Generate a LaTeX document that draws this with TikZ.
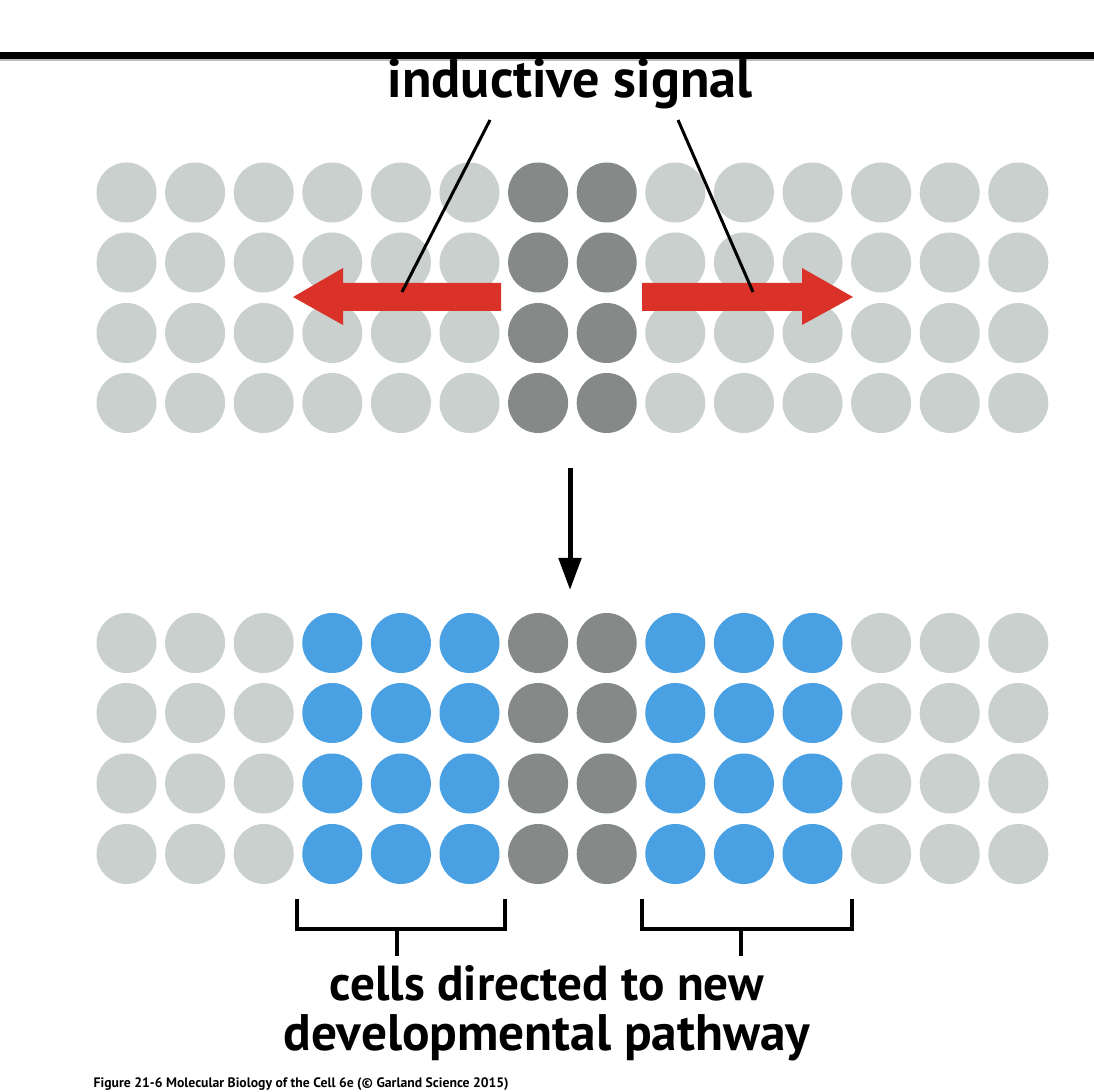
\documentclass[tikz,border=0pt]{standalone}
\usepackage{fontspec}
\setmainfont{PT Sans}
\usetikzlibrary{arrows.meta}

\definecolor{cellgrey}{HTML}{C9D0CD}
\definecolor{celldark}{HTML}{858A89}
\definecolor{cellblue}{HTML}{49A0E3}
\definecolor{signalred}{HTML}{DA3128}

\begin{document}
\begin{tikzpicture}[>=stealth, scale=1.0,
    cell/.style={circle, fill=#1, minimum size=0.6cm, inner sep=0pt},
    bigtext/.style={font=\fontsize{14}{15}\selectfont\bfseries, inner sep=0pt},
    bracket/.style={line width=0.045cm}]
    \useasboundingbox (0,0) rectangle (10.94,-10.92);

    % Rule at the top
    \draw[line width=0.07cm] (0,-0.555) -- (10.94,-0.555);
    \draw[black!25, line width=0.02cm] (0,-0.60) -- (10.94,-0.60);

    % Sheet before signalling
    \foreach \r/\y in {1/-1.925, 2/-2.625, 3/-3.33, 4/-4.03} {
        \foreach \c in {0,...,13} {
            \def\col{cellgrey}
            \ifnum\c>5 \ifnum\c<8 \def\col{celldark}\fi\fi
            \node[cell=\col] (top-\r-\c) at (1.265+0.686*\c, \y) {};
        }
    }

    % Sheet after signalling
    \foreach \r/\y in {1/-6.43, 2/-7.13, 3/-7.835, 4/-8.54} {
        \foreach \c in {0,...,13} {
            \def\col{cellgrey}
            \ifnum\c>2 \ifnum\c<11 \def\col{cellblue}\fi\fi
            \ifnum\c>5 \ifnum\c<8 \def\col{celldark}\fi\fi
            \node[cell=\col] (bot-\r-\c) at (1.265+0.686*\c, \y) {};
        }
    }

    % Signal arrows
    \fill[signalred] (5.01,-2.83) -- (3.43,-2.83) -- (3.43,-2.68) -- (2.93,-2.97)
        -- (3.43,-3.25) -- (3.43,-3.11) -- (5.01,-3.11) -- cycle;
    \fill[signalred] (6.42,-2.83) -- (8.02,-2.83) -- (8.02,-2.68) -- (8.53,-2.97)
        -- (8.02,-3.25) -- (8.02,-3.11) -- (6.42,-3.11) -- cycle;

    % Label of the signal
    \node[bigtext, font=\fontsize{15.4}{17}\selectfont\bfseries, anchor=base] (signal) at (5.70,-0.98) {inductive signal};
    \coordinate (sigL) at (4.90,-1.20);
    \coordinate (sigR) at (6.78,-1.20);
    \coordinate (arrL) at (4.02,-2.92);
    \coordinate (arrR) at (7.53,-2.92);
    \draw[line width=0.03cm] (sigL) -- (arrL);
    \draw[line width=0.03cm] (sigR) -- (arrR);

    % Step between the two sheets
    \coordinate (stepA) at (5.70,-4.68);
    \coordinate (stepB) at (5.70,-5.90);
    \draw[-{Triangle[length=0.32cm,width=0.22cm]}, line width=0.05cm] (stepA) -- (stepB);

    % Brackets under the blue cells
    \draw[bracket] (2.97,-8.99) -- (2.97,-9.29) -- (5.05,-9.29) -- (5.05,-8.99);
    \draw[bracket] (3.97,-9.29) -- (3.97,-9.56);
    \draw[bracket] (6.42,-8.99) -- (6.42,-9.29) -- (8.52,-9.29) -- (8.52,-8.99);
    \draw[bracket] (7.41,-9.29) -- (7.41,-9.56);

    % Result label
    \node[bigtext, anchor=base] (result1) at (5.47,-10.00) {cells directed to new};
    \node[bigtext, font=\fontsize{14.6}{15}\selectfont\bfseries, anchor=base] (result2) at (5.47,-10.50) {developmental pathway};

    % Caption
    \node[anchor=north west, inner sep=0pt, font=\fontsize{3.9}{4}\selectfont\bfseries] (caption)
        at (0.93,-10.77) {Figure 21-6 Molecular Biology of the Cell 6e (© Garland Science 2015)};
\end{tikzpicture}
\end{document}
